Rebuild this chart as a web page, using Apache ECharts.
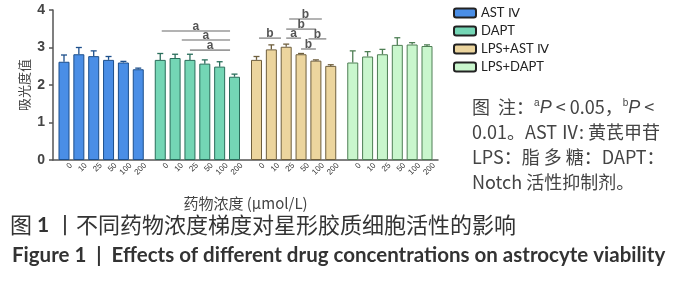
<!DOCTYPE html>
<html>
<head>
<meta charset="utf-8">
<script src="https://cdn.jsdelivr.net/npm/echarts@6/dist/echarts.min.js"></script>
<style>
  html, body { margin: 0; padding: 0; background: #fff; }
  #main { width: 700px; height: 285px; }
</style>
</head>
<body>
<div id="main"></div>
<script>
// groups (legend) and concentrations (umol/L)
const groups = ['AST Ⅳ', 'DAPT', 'LPS+AST Ⅳ', 'LPS+DAPT']
const concs = ['0', '10', '25', '50', '100', '200']

// absorbance mean and upper error per group
const astMean = [2.62, 2.82, 2.77, 2.67, 2.60, 2.42]
const astErr = [0.18, 0.18, 0.14, 0.09, 0.03, 0.03]
const daptMean = [2.67, 2.72, 2.67, 2.57, 2.49, 2.22]
const daptErr = [0.17, 0.10, 0.15, 0.10, 0.13, 0.07]
const lpsAstMean = [2.67, 2.95, 3.02, 2.82, 2.65, 2.51]
const lpsAstErr = [0.09, 0.12, 0.07, 0.02, 0.02, 0.03]
const lpsDaptMean = [2.60, 2.76, 2.82, 3.07, 3.08, 3.04]
const lpsDaptErr = [0.31, 0.13, 0.13, 0.19, 0.05, 0.03]

// significance lines: group index, from bar, to bar, level, mark
const sigGroup = [1, 1, 1, 2, 2, 2, 2, 2, 2]
const sigFrom = [0.1, 1.45, 2.0, 2.2, 2.0, 0.17, 2.0, 3.5, 3.0]
const sigTo = [4.7, 4.7, 4.7, 4.4, 4.0, 1.65, 3.0, 4.7, 4.0]
const sigLevel = [3.44, 3.2, 2.93, 3.76, 3.49, 3.25, 3.25, 3.23, 2.96]
const sigMark = ['a', 'a', 'a', 'b', 'b', 'b', 'a', 'b', 'b']

const means = [astMean, daptMean, lpsAstMean, lpsDaptMean]
const errs = [astErr, daptErr, lpsAstErr, lpsDaptErr]
const fills = ['#4a8ee6', '#74d6b5', '#ecd59e', '#c9f6cd']
const borders = ['#1d4f8c', '#2a6e5b', '#6f5f3e', '#4f7f55']

const BAR_W = 11
const BAR_GAP = '35%'

const chart = echarts.init(document.getElementById('main'))

const barSeries = concs.map((c, ci) => ({
  name: c,
  type: 'bar',
  barWidth: BAR_W,
  barGap: BAR_GAP,
  data: groups.map((g, gi) => ({
    value: means[gi][ci],
    itemStyle: { color: fills[gi], borderColor: borders[gi] },
  })),
  itemStyle: { borderWidth: 1 },
  label: {
    show: true,
    position: ['50%', '100%'],
    formatter: c,
    rotate: 45,
    align: 'right',
    verticalAlign: 'middle',
    offset: [2, 8],
    fontSize: 8,
    color: '#333',
  },
}))

// empty series only for the legend
const legendSeries = groups.map((g, gi) => ({
  name: g,
  type: 'bar',
  xAxisIndex: 1,
  yAxisIndex: 1,
  data: [],
  itemStyle: { color: fills[gi], borderColor: '#222', borderWidth: 1 },
}))

const errData = []
groups.forEach((g, gi) => {
  concs.forEach((c, ci) => {
    errData.push([gi, ci, means[gi][ci], means[gi][ci] + errs[gi][ci]])
  })
})

const errSeries = {
  type: 'custom',
  data: errData,
  z: 3,
  clip: false,
  renderItem(params, api) {
    const layout = api.barLayout({ count: concs.length, barWidth: BAR_W, barGap: BAR_GAP })
    const gi = api.value(0)
    const base = api.coord([gi, api.value(2)])
    const top = api.coord([gi, api.value(3)])
    const x = base[0] + layout[api.value(1)].offsetCenter
    const style = { stroke: borders[gi], lineWidth: 1.3 }
    return {
      type: 'group',
      children: [
        { type: 'line', shape: { x1: x, y1: base[1], x2: x, y2: top[1] }, style },
        { type: 'line', shape: { x1: x - 3, y1: top[1], x2: x + 3, y2: top[1] }, style },
      ],
    }
  },
}

const sigData = sigGroup.map((g, i) => [g, sigFrom[i], sigTo[i], sigLevel[i], sigMark[i]])

const sigSeries = {
  type: 'custom',
  data: sigData,
  z: 4,
  clip: false,
  renderItem(params, api) {
    const layout = api.barLayout({ count: concs.length, barWidth: BAR_W, barGap: BAR_GAP })
    const pitch = layout[1].offsetCenter - layout[0].offsetCenter
    const p = api.coord([api.value(0), api.value(3)])
    const x1 = p[0] + layout[0].offsetCenter + api.value(1) * pitch
    const x2 = p[0] + layout[0].offsetCenter + api.value(2) * pitch
    return {
      type: 'group',
      children: [
        { type: 'line', shape: { x1, y1: p[1], x2, y2: p[1] }, style: { stroke: '#9a9a9a', lineWidth: 1.6 } },
        {
          type: 'text',
          x: (x1 + x2) / 2,
          y: p[1] + 2,
          style: {
            text: sigData[params.dataIndex][4],
            fontSize: 12,
            fontWeight: 'bold',
            fontFamily: 'Liberation Sans',
            fill: '#555',
            align: 'center',
            verticalAlign: 'bottom',
          },
        },
      ],
    }
  },
}

const noteFont = { fontSize: 18, fontFamily: 'Noto Sans CJK SC', fill: '#444' }

const option = {
  animation: false,
  grid: { left: 53, right: 262, top: 10, bottom: 125 },
  legend: {
    orient: 'vertical',
    left: 453,
    top: 6,
    padding: 0,
    itemWidth: 22,
    itemHeight: 9,
    itemGap: 4,
    selectedMode: false,
    data: groups,
    textStyle: { fontSize: 13, lineHeight: 14, fontFamily: 'Lato', color: '#222' },
  },
  xAxis: [
    {
      type: 'category',
      data: groups,
      axisLine: { lineStyle: { color: '#555', width: 1.5 } },
      axisTick: { show: false },
      axisLabel: { show: false },
      name: '药物浓度 (μmol/L)',
      nameLocation: 'middle',
      nameGap: 36,
      nameTextStyle: { fontSize: 15, color: '#444', fontFamily: 'Noto Sans CJK SC' },
    },
    { type: 'category', show: false, data: [] },
  ],
  yAxis: [
    {
      type: 'value',
      min: 0,
      max: 4,
      interval: 1,
      splitLine: { show: false },
      axisLine: { show: true, lineStyle: { color: '#555', width: 1.5 } },
      axisTick: { show: true, length: 4, lineStyle: { color: '#555', width: 1.5 } },
      axisLabel: { fontSize: 14, fontWeight: 'bold', color: '#444', margin: 8, fontFamily: 'Liberation Sans' },
      name: '吸光度值',
      nameLocation: 'middle',
      nameRotate: 90,
      nameGap: 22,
      nameMoveOverlap: false,
      nameTextStyle: { fontSize: 13, color: '#444', fontFamily: 'Noto Sans CJK SC' },
    },
    { type: 'value', show: false },
  ],
  graphic: [
    {
      type: 'text',
      left: 472,
      top: 98,
      style: {
        ...noteFont,
        text: '图  注：{s|a}{i|P} < 0.05，{s|b}{i|P} <',
        rich: {
          s: { fontSize: 10, verticalAlign: 'top', fill: '#444', padding: [0, 0, 9, 0] },
          i: { fontSize: 18, fontStyle: 'italic', fill: '#444', fontFamily: 'Liberation Sans' },
        },
      },
    },
    { type: 'text', left: 472, top: 123, style: { ...noteFont, text: '0.01。AST Ⅳ: 黄芪甲苷' } },
    { type: 'text', left: 472, top: 148, style: { ...noteFont, text: 'LPS：脂 多 糖：DAPT：' } },
    { type: 'text', left: 472, top: 173, style: { ...noteFont, text: 'Notch 活性抑制剂。' } },
    {
      type: 'text',
      left: 10,
      top: 214,
      style: {
        text: '图 {b|1} 丨不同药物浓度梯度对星形胶质细胞活性的影响',
        fontSize: 22,
        fontFamily: 'Noto Sans CJK SC',
        fill: '#333',
        rich: { b: { fontSize: 21, fontWeight: 'bold', fontFamily: 'Lato', fill: '#333' } },
      },
    },
    {
      type: 'text',
      left: 12,
      top: 245,
      style: {
        text: 'Figure 1  |  Effects of different drug concentrations on astrocyte viability',
        fontSize: 20.5,
        fontWeight: 'bold',
        fontFamily: 'Lato',
        fill: '#333',
      },
    },
  ],
  series: [...barSeries, ...legendSeries, errSeries, sigSeries],
}

chart.setOption(option)
</script>
</body>
</html>
